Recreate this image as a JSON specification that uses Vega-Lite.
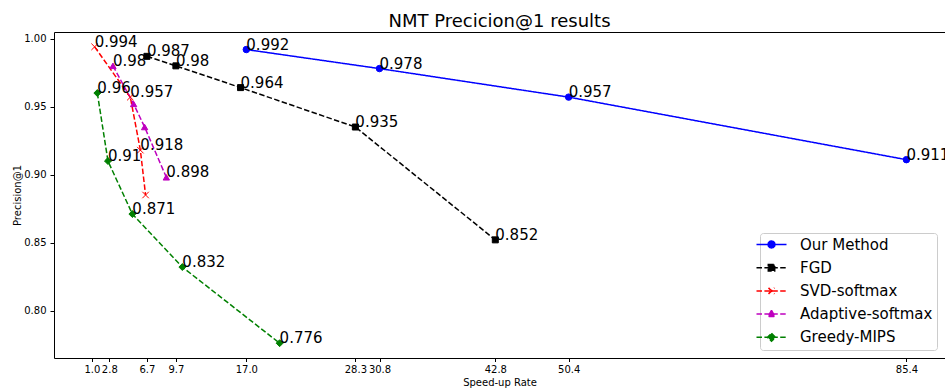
{
  "$schema": "https://vega.github.io/schema/vega-lite/v6.json",
  "width": 891,
  "height": 326,
  "autosize": {"type": "none"},
  "padding": {"left": 54, "top": 32, "right": 0, "bottom": 31},
  "background": "white",
  "title": {"text": "NMT Precicion@1 results", "fontSize": 18, "font": "DejaVu Sans", "fontWeight": "normal", "color": "black", "anchor": "middle", "offset": 1},
  "config": {
    "view": {"stroke": "black", "strokeWidth": 1},
    "legend": {"orient": "bottom-right", "offset": 8, "padding": 4, "rowPadding": 7.2,
      "fillColor": "rgba(255,255,255,0.8)", "strokeColor": "#cccccc", "cornerRadius": 3,
      "labelFont": "DejaVu Sans", "labelFontSize": 15, "labelColor": "black", "labelOffset": 21, "labelLimit": 300,
      "symbolSize": 100, "symbolStrokeWidth": 1.5, "symbolOpacity": 1}
  },
  "data": {"values": [
    {"method": "Our Method", "speedup": 17.0, "precision": 0.992, "annotated": true},
    {"method": "Our Method", "speedup": 30.8, "precision": 0.978, "annotated": true},
    {"method": "Our Method", "speedup": 50.4, "precision": 0.957, "annotated": true},
    {"method": "Our Method", "speedup": 85.4, "precision": 0.911, "annotated": true},
    {"method": "FGD", "speedup": 6.7, "precision": 0.987, "annotated": true},
    {"method": "FGD", "speedup": 9.7, "precision": 0.98, "annotated": true},
    {"method": "FGD", "speedup": 16.4, "precision": 0.964, "annotated": true},
    {"method": "FGD", "speedup": 28.3, "precision": 0.935, "annotated": true},
    {"method": "FGD", "speedup": 42.8, "precision": 0.852, "annotated": true},
    {"method": "SVD-softmax", "speedup": 1.28, "precision": 0.994, "annotated": true},
    {"method": "SVD-softmax", "speedup": 4.98, "precision": 0.957, "annotated": true},
    {"method": "SVD-softmax", "speedup": 6.02, "precision": 0.918, "annotated": true},
    {"method": "SVD-softmax", "speedup": 6.56, "precision": 0.885, "annotated": false},
    {"method": "Adaptive-softmax", "speedup": 3.18, "precision": 0.98, "annotated": true},
    {"method": "Adaptive-softmax", "speedup": 5.32, "precision": 0.952, "annotated": false},
    {"method": "Adaptive-softmax", "speedup": 6.46, "precision": 0.935, "annotated": false},
    {"method": "Adaptive-softmax", "speedup": 8.71, "precision": 0.898, "annotated": true},
    {"method": "Greedy-MIPS", "speedup": 1.56, "precision": 0.96, "annotated": true},
    {"method": "Greedy-MIPS", "speedup": 2.66, "precision": 0.91, "annotated": true},
    {"method": "Greedy-MIPS", "speedup": 5.19, "precision": 0.871, "annotated": true},
    {"method": "Greedy-MIPS", "speedup": 10.37, "precision": 0.832, "annotated": true},
    {"method": "Greedy-MIPS", "speedup": 20.45, "precision": 0.776, "annotated": true}
  ]},
  "encoding": {
    "x": {"field": "speedup", "type": "quantitative",
      "scale": {"domain": [-2.93, 89.4], "nice": false, "zero": false},
      "axis": {"values": [1.0, 2.8, 6.7, 9.7, 17.0, 28.3, 30.8, 42.8, 50.4, 85.4], "format": ".1f", "title": "Speed-up Rate", "grid": false, "domain": false, "tickColor": "black", "tickSize": 3.5, "labelFontSize": 10, "labelFont": "DejaVu Sans", "labelColor": "black", "labelPadding": 3, "titleFontSize": 10, "titleFont": "DejaVu Sans", "titleFontWeight": "normal", "titleColor": "black", "titlePadding": 3, "labelFlush": false, "labelOverlap": false, "labelBound": false}},
    "y": {"field": "precision", "type": "quantitative",
      "scale": {"domain": [0.7651, 1.0049], "nice": false, "zero": false},
      "axis": {"values": [0.8, 0.85, 0.9, 0.95, 1.0], "format": ".2f", "title": "Precision@1", "grid": false, "domain": false, "tickColor": "black", "tickSize": 4, "labelFontSize": 10, "labelFont": "DejaVu Sans", "labelColor": "black", "labelPadding": 4, "titleFontSize": 10, "titleFont": "DejaVu Sans", "titleFontWeight": "normal", "titleColor": "black", "titlePadding": 1, "labelFlush": false, "labelOverlap": false, "labelBound": false}}
  },
  "layer": [
    {"mark": {"type": "line", "strokeWidth": 1.5},
     "encoding": {
       "color": {"field": "method", "type": "nominal", "scale": {"domain": ["Our Method", "FGD", "SVD-softmax", "Adaptive-softmax", "Greedy-MIPS"], "range": ["#0000ff", "#000000", "#ff0000", "#bf00bf", "#008000"]}, "legend": {"title": null}},
       "strokeDash": {"field": "method", "type": "nominal", "scale": {"domain": ["Our Method", "FGD", "SVD-softmax", "Adaptive-softmax", "Greedy-MIPS"], "range": [[1, 0], [5.5, 2.4], [5.5, 2.4], [5.5, 2.4], [5.5, 2.4]]}, "legend": {"title": null}}}},
    {"transform": [{"filter": "datum.method === 'Our Method'"}],
     "mark": {"type": "point", "shape": "circle", "size": 42, "filled": true, "strokeWidth": 1, "opacity": 1, "color": "#0000ff", "stroke": "#0000ff"}},
    {"transform": [{"filter": "datum.method === 'FGD'"}],
     "mark": {"type": "point", "shape": "square", "size": 36, "filled": true, "strokeWidth": 1, "opacity": 1, "color": "#000000", "stroke": "#000000"}},
    {"transform": [{"filter": "datum.method === 'SVD-softmax'"}],
     "mark": {"type": "point", "shape": "M-1,-1L1,1M-1,1L1,-1", "size": 42, "filled": true, "strokeWidth": 1, "opacity": 1, "color": "#ff0000", "stroke": "#ff0000"}},
    {"transform": [{"filter": "datum.method === 'Adaptive-softmax'"}],
     "mark": {"type": "point", "shape": "triangle-up", "size": 40, "filled": true, "strokeWidth": 1, "opacity": 1, "color": "#bf00bf", "stroke": "#bf00bf"}},
    {"transform": [{"filter": "datum.method === 'Greedy-MIPS'"}],
     "mark": {"type": "point", "shape": "diamond", "size": 48, "filled": true, "strokeWidth": 1, "opacity": 1, "color": "#008000", "stroke": "#008000"}},
    {"mark": {"type": "point", "filled": true, "opacity": 0, "size": 100, "strokeWidth": 1.5},
     "encoding": {
       "color": {"field": "method", "type": "nominal", "legend": {"title": null}},
       "stroke": {"field": "method", "type": "nominal", "scale": {"domain": ["Our Method", "FGD", "SVD-softmax", "Adaptive-softmax", "Greedy-MIPS"], "range": ["#0000ff", "#000000", "#ff0000", "#bf00bf", "#008000"]}, "legend": {"title": null}},
       "shape": {"field": "method", "type": "nominal", "scale": {"domain": ["Our Method", "FGD", "SVD-softmax", "Adaptive-softmax", "Greedy-MIPS"], "range": [
         "M-3,0H3M0.7,0L0.606,0.35L0.35,0.606L0,0.7L-0.35,0.606L-0.606,0.35L-0.7,0L-0.606,-0.35L-0.35,-0.606L0,-0.7L0.35,-0.606L0.606,-0.35Z",
         "M-3,0H3M-0.64,-0.64H0.64V0.64H-0.64Z",
         "M-3,0H3M-0.6,-0.6L0.6,0.6M-0.6,0.6L0.6,-0.6",
         "M-3,0H3M0,-0.75L0.7,0.5H-0.7Z",
         "M-3,0H3M0,-0.8L0.8,0L0,0.8L-0.8,0Z"]}, "legend": {"title": null}},
       "strokeDash": {"field": "method", "type": "nominal", "legend": {"title": null}}
     }},
    {"transform": [{"filter": "datum.annotated"}],
     "mark": {"type": "text", "align": "left", "baseline": "alphabetic", "fontSize": 15, "font": "DejaVu Sans", "color": "black"},
     "encoding": {"text": {"field": "precision", "type": "quantitative", "format": ".3~f"}}}
  ]
}
